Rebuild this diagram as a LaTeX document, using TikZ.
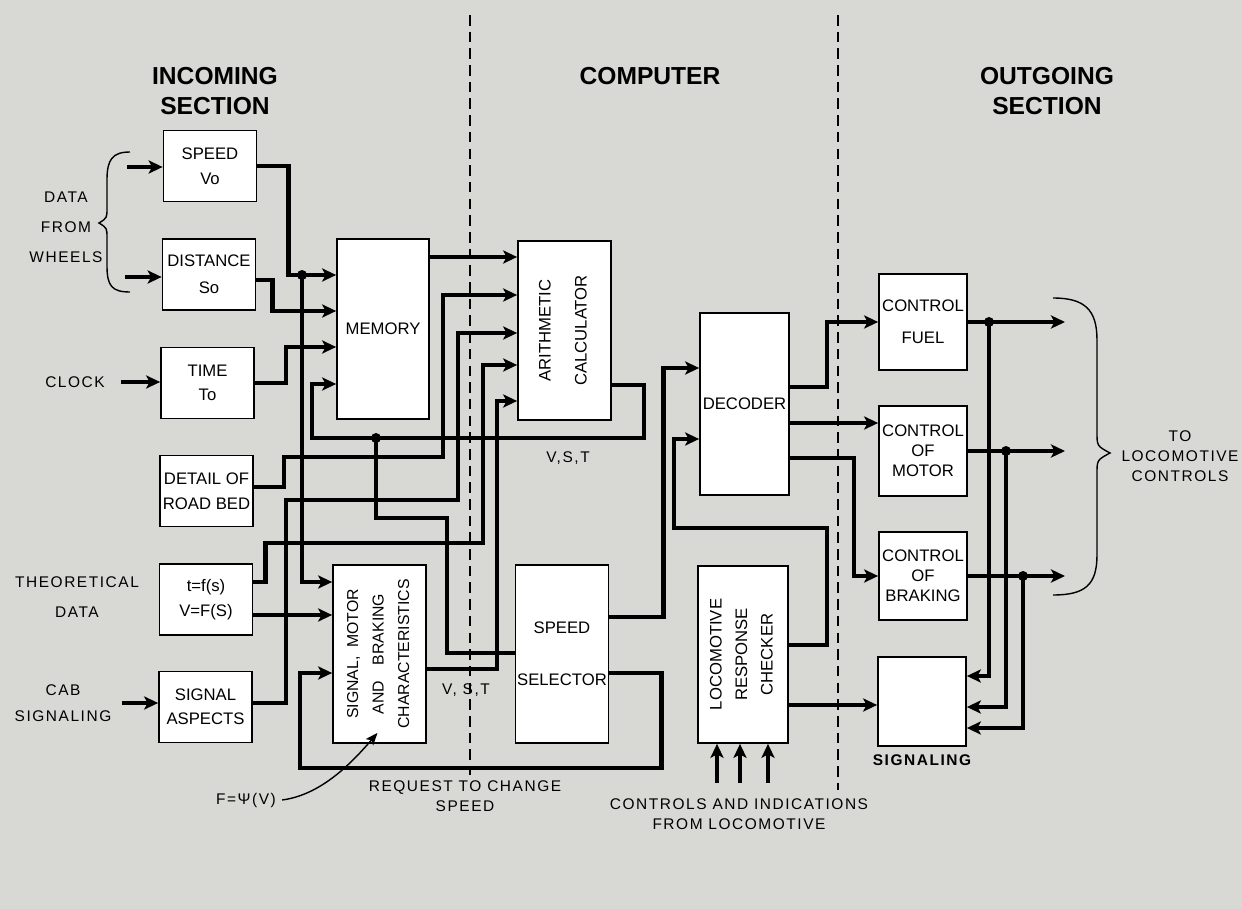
\documentclass[tikz,border=0pt]{standalone}
\usepackage{fontspec}
\setmainfont{Liberation Sans}
\newfontfamily\sidefont[LetterSpace=10]{Liberation Sans}
\usepackage{graphicx}
\usepackage{tikz}
\usetikzlibrary{arrows.meta,positioning,calc}
\definecolor{paper}{RGB}{216,216,213}
\tikzset{
  block/.style={draw,line width=1pt,fill=white,inner sep=1pt,align=center,font=\fontsize{9.5}{11.5}\selectfont},
  inbox/.style={block,minimum width=1.86cm,minimum height=1.42cm},
  outbox/.style={block,minimum width=1.76cm},
  wire/.style={line width=2.5pt},
  feed/.style={wire,-{Stealth[length=8pt,width=7.5pt,inset=2pt]}},
  thinfeed/.style={line width=0.8pt,-{Stealth[length=7pt,width=5.5pt,inset=1.5pt]}},
  divider/.style={line width=0.6pt,dash pattern=on 6pt off 3.5pt},
  head/.style={font=\fontsize{14}{17}\selectfont\bfseries,align=center},
  side/.style={font=\sidefont\fontsize{8.8}{11.5}\selectfont,align=center},
  brace/.style={line width=0.8pt}
}
\begin{document}
\begin{tikzpicture}[x=0.02cm,y=-0.02cm]
        \useasboundingbox (0,0) rectangle (1242,909);
        \fill[paper] (0,0) rectangle (1242,909);
        \draw[divider] (470,15) -- (470,775);
        \draw[divider] (838,15) -- (838,790);
        \node[head] (hin) at (215,91) {INCOMING\\SECTION};
        \node[head] (hcomp) at (650,76) {COMPUTER};
        \node[head] (hout) at (1047,91) {OUTGOING\\SECTION};
        \node[inbox] (speed) at (210,166) {SPEED\\[3pt]Vo};
        \node[inbox] (dist) at (209,274.5) {DISTANCE\\[4pt]So};
        \node[inbox] (time) at (207.5,383) {TIME\\[2pt]To};
        \node[inbox] (detail) at (206.5,491) {DETAIL OF\\[3pt]ROAD BED};
        \node[inbox] (theory) at (206,599.5) {t=f(s)\\[3pt]V=F(S)};
        \node[inbox] (aspects) at (205.5,707) {SIGNAL\\[2pt]ASPECTS};
        \node[block,minimum width=1.84cm,minimum height=3.6cm] (mem) at (383,329) {MEMORY};
        \node[block,minimum width=1.86cm,minimum height=3.58cm] (arith) at (564.5,330.5)
          {\rotatebox{90}{\begin{tabular}{@{}c@{}}ARITHMETIC\\[9pt]CALCULATOR\end{tabular}}};
        \node[block,minimum width=1.86cm,minimum height=3.56cm,font=\fontsize{9}{11.5}\selectfont] (sig) at (379.5,654)
          {\rotatebox{90}{\begin{tabular}{@{}c@{}}SIGNAL,\ \ MOTOR\\[3pt]AND\quad BRAKING\\[3pt]CHARACTERISTICS\end{tabular}}};
        \node[block,minimum width=1.84cm,minimum height=3.56cm] (sel) at (562,654) {SPEED\\[18pt]SELECTOR};
        \node[block,minimum width=1.78cm,minimum height=3.64cm] (dec) at (744.5,404) {DECODER};
        \node[block,minimum width=1.80cm,minimum height=3.54cm] (chk) at (743,654.5)
          {\rotatebox{90}{\begin{tabular}{@{}c@{}}LOCOMOTIVE\\[3pt]RESPONSE\\[3pt]CHECKER\end{tabular}}};
        \node[outbox,minimum height=1.92cm] (fuel) at (923,322) {CONTROL\\[7pt]FUEL};
        \node[outbox,minimum height=1.80cm] (motor) at (923,451) {CONTROL\\OF\\MOTOR};
        \node[outbox,minimum height=1.76cm] (brake) at (923,576) {CONTROL\\OF\\BRAKING};
        \node[outbox,minimum height=1.78cm] (signal) at (922,701.5) {};
        \node[side] (wheels) at (66,227) {DATA\\[5.5pt]FROM\\[5.5pt]WHEELS};
        \node[side] (clock) at (75,382) {CLOCK};
        \node[side] (theo) at (77,597) {THEORETICAL\\[6pt]DATA};
        \node[side] (cab) at (63,703) {CAB\\[3.5pt]SIGNALING};
        \node[side] (tolc) at (1180,456) {TO\\LOCOMOTIVE\\CONTROLS};
        \node[side] (vst1) at (568,458) {V,S,T};
        \node[side] (vst2) at (466,690) {V, S,T};
        \node[side,font=\sidefont\fontsize{8.8}{11.5}\selectfont\bfseries] (sigl) at (922,760) {SIGNALING};
        \node[side] (req) at (465,796) {REQUEST TO CHANGE\\SPEED};
        \node[side] (cind) at (739,814) {CONTROLS AND INDICATIONS\\FROM LOCOMOTIVE};
        \node[side] (fpsi) at (246,800) {F=Ψ(V)};
        \coordinate (inv) at (127,167);
        \coordinate (ind) at (125,277);
        \coordinate (j1) at (302,275);
        \coordinate (j2) at (376,438);
        \coordinate (jf) at (989,322);
        \coordinate (jm) at (1006,451);
        \coordinate (jb) at (1023,576);
        \coordinate (ofuel) at (1065,322);
        \coordinate (omotor) at (1065,451);
        \coordinate (obrake) at (1065,576);
        \draw[brace] (130,152) .. controls (112,152) and (107,160) .. (107,180) -- (107,208) .. controls (107,218) .. (99,223) .. controls (107,228) .. (107,238) -- (107,266) .. controls (107,286) and (112,292) .. (130,292);
        \draw[brace] (1053,298) .. controls (1085,298) and (1097,310) .. (1097,340) -- (1097,432) .. controls (1097,446) .. (1110,453) .. controls (1097,460) .. (1097,474) -- (1097,555) .. controls (1097,585) and (1085,595) .. (1053,595);
        \draw[feed] (inv) -- (speed.west |- inv);
        \draw[feed] (ind) -- (dist.west |- ind);
        \draw[feed] ([xshift=0.2cm]clock.east) -- (time.west |- clock.east);
        \draw[feed] ([xshift=0.1cm]cab.east) -- (aspects.west |- cab.east);
        \draw[feed] (speed.east) -- ++(31,0) |- (mem.west |- 0,275);
        \draw[feed] (dist.east |- 0,280) -- ++(16,0) |- (mem.west |- 0,311);
        \draw[feed] (time.east) -- ++(31,0) |- (mem.west |- 0,347);
        \draw[feed] (j1) |- (sig.west |- 0,582);
        \draw[feed] (arith.east |- 0,385) -- ++(32,0) |- (j2) -| (312,384) -- (mem.west |- 0,384);
        \draw[wire] (j2) |- (447,518) |- (sel.west |- 0,653);
        \draw[feed] (mem.east |- 0,257) -- (arith.west |- 0,257);
        \draw[feed] (detail.east |- 0,487) -- ++(30,0) |- (443,457) |- (arith.west |- 0,295);
        \draw[feed] (aspects.east |- 0,703) -- ++(33,0) |- (458,500) |- (arith.west |- 0,333);
        \draw[feed] (theory.east |- 0,582) -- ++(12,0) |- (483,543) |- (arith.west |- 0,365);
        \draw[feed] (theory.east |- 0,615) -- (sig.west |- 0,615);
        \draw[feed] (sig.east |- 0,669) -- ++(70,0) |- (arith.west |- 0,401);
        \draw[feed] (sel.east |- 0,673) -- ++(52,0) |- (300,768) |- (sig.west |- 0,673);
        \draw[feed] (sel.east |- 0,617) -- ++(54,0) |- (dec.west |- 0,368);
        \draw[feed] (chk.east |- 0,645) -- ++(38,0) |- (674,528) |- (dec.west |- 0,439);
        \draw[feed] (chk.east |- 0,705) -- (signal.west |- 0,705);
        \draw[feed] (dec.east |- 0,387) -- ++(37,0) |- (fuel.west);
        \draw[feed] (dec.east |- 0,423) -- (motor.west |- 0,423);
        \draw[feed] (dec.east |- 0,458) -- ++(64,0) |- (brake.west);
        \draw[feed] (fuel.east) -- (ofuel);
        \draw[feed] (motor.east) -- (omotor);
        \draw[feed] (brake.east) -- (obrake);
        \draw[feed] (jf) |- (signal.east |- 0,676);
        \draw[feed] (jm) |- (signal.east |- 0,707);
        \draw[feed] (jb) |- (signal.east |- 0,728);
        \foreach \dx in {-26,-3,25}
          \draw[feed] ($(chk.south)+(\dx,39)$) -- ($(chk.south)+(\dx,0)$);
        \draw[thinfeed] (fpsi.east) .. controls (320,795) and (350,765) .. ($(sig.south)+(-2,-11)$);
        \foreach \j in {j1,j2,jf,jm,jb}
          \fill (\j) circle[radius=5];
      \end{tikzpicture}
\end{document}
